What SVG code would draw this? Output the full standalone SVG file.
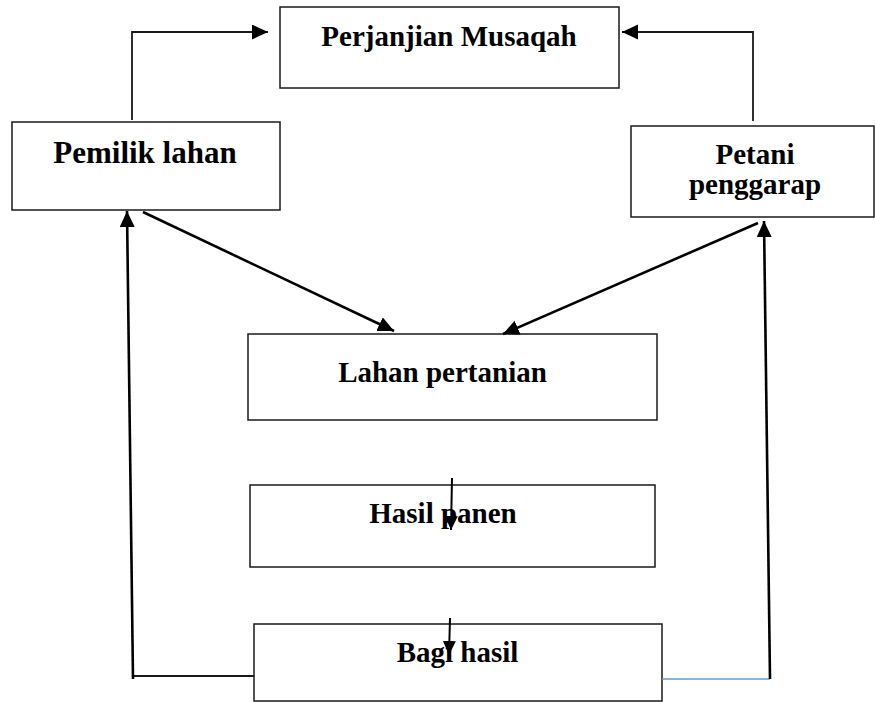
<svg xmlns="http://www.w3.org/2000/svg" width="875" height="702" viewBox="0 0 875 702">
  <style>
    .box { fill: #ffffff; stroke: #1a1a1a; stroke-width: 1.5; }
    .label { font-family: "Liberation Serif", "Times New Roman", serif; font-weight: bold; font-size: 29px; fill: #000000; text-anchor: middle; }
    .thin { fill: none; stroke: #1a1a1a; stroke-width: 1.8; }
    .inner { fill: none; stroke: #000000; stroke-width: 2; }
    .thick { fill: none; stroke: #000000; stroke-width: 2.6; }
    .blue { fill: none; stroke: #5b9bd5; stroke-width: 1.6; }
  </style>
  <defs>
    <marker id="head" markerUnits="userSpaceOnUse" markerWidth="18" markerHeight="16" refX="16" refY="7.5" orient="auto">
      <path d="M0,0 L16,7.5 L0,15 z" fill="#000000"/>
    </marker>
    <marker id="headSmall" markerUnits="userSpaceOnUse" markerWidth="16" markerHeight="14" refX="14" refY="6.5" orient="auto">
      <path d="M0,0 L14,6.5 L0,13 z" fill="#000000"/>
    </marker>
  </defs>

  <rect width="875" height="702" fill="#ffffff"/>

  <!-- nodes -->
  <g id="perjanjian-musaqah">
    <rect class="box" x="280" y="7" width="339" height="81"/>
    <text class="label" x="449" y="46">Perjanjian Musaqah</text>
  </g>

  <g id="pemilik-lahan">
    <rect class="box" x="12" y="122" width="268" height="88"/>
    <text class="label" x="145" y="163" style="font-size:31px">Pemilik lahan</text>
  </g>

  <g id="petani-penggarap">
    <rect class="box" x="631" y="126" width="243" height="91"/>
    <text class="label" x="755" y="164">Petani</text>
    <text class="label" x="755" y="194">penggarap</text>
  </g>

  <g id="lahan-pertanian">
    <rect class="box" x="248" y="334" width="409" height="86"/>
    <text class="label" x="442.5" y="382">Lahan pertanian</text>
  </g>

  <g id="hasil-panen">
    <rect class="box" x="250" y="485" width="405" height="82"/>
    <text class="label" x="443" y="523">Hasil panen</text>
  </g>

  <g id="bagi-hasil">
    <rect class="box" x="254" y="624" width="408" height="77"/>
    <text class="label" x="457.5" y="662">Bagi hasil</text>
  </g>

  <!-- connectors -->
  <g id="connectors">
    <!-- owner and farmer up to the agreement -->
    <polyline class="thin" points="132,120 132,32 268,32" marker-end="url(#head)"/>
    <polyline class="thin" points="753,121 753,32 622,32" marker-end="url(#head)"/>

    <!-- owner and farmer down to the farmland -->
    <line class="thick" x1="143" y1="212" x2="394" y2="331" marker-end="url(#head)"/>
    <line class="thick" x1="758" y1="223" x2="503" y2="334" marker-end="url(#head)"/>

    <!-- short arrows inside the lower boxes -->
    <line class="inner" x1="452" y1="478" x2="451" y2="530" marker-end="url(#headSmall)"/>
    <line class="inner" x1="450" y1="618" x2="449" y2="655" marker-end="url(#headSmall)"/>

    <!-- shares returned to the owner -->
    <line class="thin" x1="133" y1="676" x2="254" y2="676"/>
    <line class="thick" x1="133" y1="679" x2="127" y2="211" marker-end="url(#head)"/>

    <!-- shares returned to the farmer -->
    <line class="blue" x1="662" y1="679" x2="770" y2="679"/>
    <line class="thick" x1="770" y1="679" x2="764" y2="221" marker-end="url(#head)"/>
  </g>
</svg>
